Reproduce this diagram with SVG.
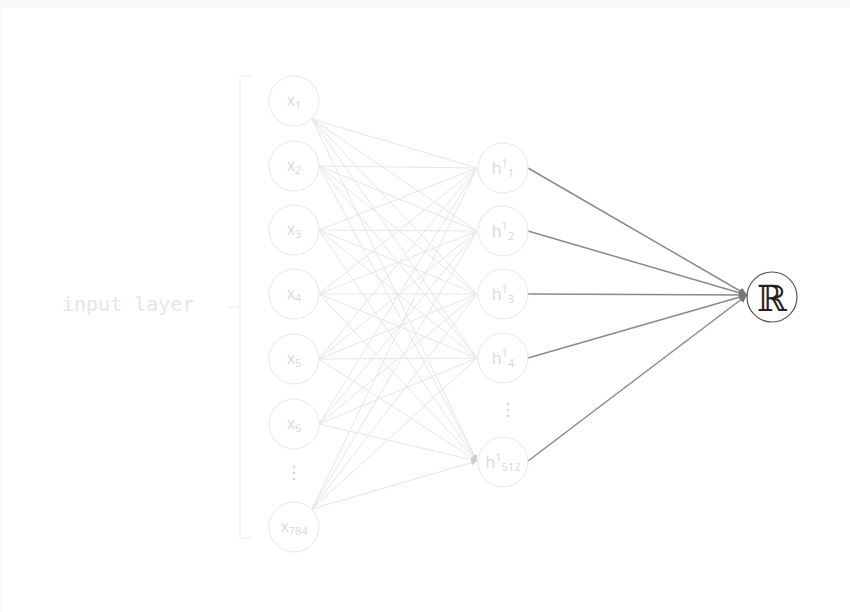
<svg xmlns="http://www.w3.org/2000/svg" width="850" height="612" viewBox="0 0 850 612">
<defs>
<style>
.node{fill:#fff;stroke:#e8e8e8;stroke-width:1}
.lbl{font-family:"Open Sans","Liberation Sans",sans-serif;font-size:16px;fill:#d9d9d9;text-anchor:middle}
.sub{font-size:11px}
.e1{stroke:#e6e6e6;stroke-width:1;fill:none;marker-end:url(#a1)}
.e2{stroke:#8a8a8a;stroke-width:1.5;fill:none;marker-end:url(#a2)}
.dots{fill:#d8d8d8}
</style>
<marker id="a1" viewBox="0 0 10 10" refX="10" refY="5" markerWidth="6" markerHeight="6" markerUnits="userSpaceOnUse" orient="auto"><path d="M0,0L10,5L0,10z" fill="#cccccc"/></marker>
<marker id="a2" viewBox="0 0 10 10" refX="10" refY="5" markerWidth="8" markerHeight="8" markerUnits="userSpaceOnUse" orient="auto"><path d="M0,0L10,5L0,10z" fill="#777"/></marker>
</defs>
<rect width="850" height="612" fill="#fff"/>
<rect x="0" y="0" width="850" height="8" fill="#fafafa"/>
<rect x="0" y="0" width="3" height="612" fill="#fafafa"/>
<g id="input-layer">
<path d="M252,76H240V538H252M228,307H240" fill="none" stroke="#ececec" stroke-width="1"/>
<text x="62" y="311" font-family="DejaVu Sans Mono,monospace" font-size="20" fill="#e6e6e6">input layer</text>
</g>
<g id="connectors">
<g id="in-edges">
<path class="e1" d="M312,119L477,168M312,119L477,231M312,119L477,294M312,119L477,358M312,119L477,461"/>
<path class="e1" d="M319,166L477,168M319,166L477,231M319,166L477,294M319,166L477,358M319,166L477,461"/>
<path class="e1" d="M319,230L477,168M319,230L477,231M319,230L477,294M319,230L477,358M319,230L477,461"/>
<path class="e1" d="M319,294L477,168M319,294L477,231M319,294L477,294M319,294L477,358M319,294L477,461"/>
<path class="e1" d="M319,359L477,168M319,359L477,231M319,359L477,294M319,359L477,358M319,359L477,461"/>
<path class="e1" d="M319,424L477,168M319,424L477,231M319,424L477,294M319,424L477,358M319,424L477,461"/>
<path class="e1" d="M312,509L477,168M312,509L477,231M312,509L477,294M312,509L477,358M312,509L477,461"/>
</g>
<g id="out-edges">
<path class="e2" d="M528,168L747,295"/>
<path class="e2" d="M528,231L747,295"/>
<path class="e2" d="M528,294L747,295"/>
<path class="e2" d="M528,358L747,295"/>
<path class="e2" d="M528,461L747,295"/>
</g>
</g>
<g id="x1"><circle class="node" cx="294" cy="101" r="25"/><text class="lbl" x="294" y="106">x<tspan class="sub" dy="3">1</tspan></text></g>
<g id="x2"><circle class="node" cx="294" cy="166" r="25"/><text class="lbl" x="294" y="171">x<tspan class="sub" dy="3">2</tspan></text></g>
<g id="x3"><circle class="node" cx="294" cy="230" r="25"/><text class="lbl" x="294" y="235">x<tspan class="sub" dy="3">3</tspan></text></g>
<g id="x4"><circle class="node" cx="294" cy="294" r="25"/><text class="lbl" x="294" y="299">x<tspan class="sub" dy="3">4</tspan></text></g>
<g id="x5"><circle class="node" cx="294" cy="359" r="25"/><text class="lbl" x="294" y="364">x<tspan class="sub" dy="3">5</tspan></text></g>
<g id="x6"><circle class="node" cx="294" cy="424" r="25"/><text class="lbl" x="294" y="429">x<tspan class="sub" dy="3">6</tspan></text></g>
<g id="x-dots"><circle class="dots" cx="294" cy="467" r="1.3"/><circle class="dots" cx="294" cy="473" r="1.3"/><circle class="dots" cx="294" cy="479" r="1.3"/></g>
<g id="x784"><circle class="node" cx="294" cy="527" r="25"/><text class="lbl" x="294" y="532">x<tspan class="sub" dy="3">784</tspan></text></g>
<g id="h1"><circle class="node" cx="503" cy="168" r="25"/><text class="lbl" x="503" y="174">h<tspan class="sub" dy="-7">1</tspan><tspan class="sub" dy="10">1</tspan></text></g>
<g id="h2"><circle class="node" cx="503" cy="231" r="25"/><text class="lbl" x="503" y="237">h<tspan class="sub" dy="-7">1</tspan><tspan class="sub" dy="10">2</tspan></text></g>
<g id="h3"><circle class="node" cx="503" cy="294" r="25"/><text class="lbl" x="503" y="300">h<tspan class="sub" dy="-7">1</tspan><tspan class="sub" dy="10">3</tspan></text></g>
<g id="h4"><circle class="node" cx="503" cy="358" r="25"/><text class="lbl" x="503" y="364">h<tspan class="sub" dy="-7">1</tspan><tspan class="sub" dy="10">4</tspan></text></g>
<g id="h-dots"><circle class="dots" cx="508" cy="404" r="1.3"/><circle class="dots" cx="508" cy="410" r="1.3"/><circle class="dots" cx="508" cy="416" r="1.3"/></g>
<g id="h512"><circle class="node" cx="503" cy="462" r="25"/><text class="lbl" x="503" y="468">h<tspan class="sub" dy="-7">1</tspan><tspan class="sub" dy="10">512</tspan></text></g>
<g id="R"><circle cx="772" cy="297" r="25" fill="#fff" stroke="#555" stroke-width="1.2"/><text x="772" y="311" font-family="DejaVu Serif,serif" font-size="36" fill="#222" text-anchor="middle">ℝ</text></g>
</svg>
